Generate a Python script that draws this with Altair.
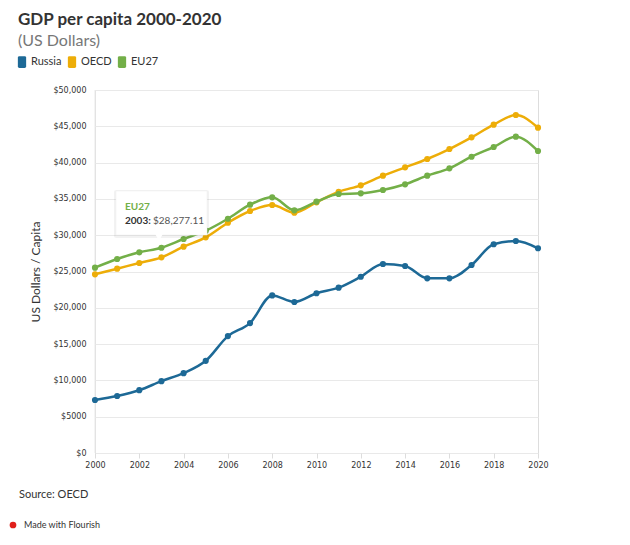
import altair as alt
import pandas as pd

years = list(range(2000, 2021))
russia = [7300, 7850, 8650, 9900, 11000, 12700, 16100, 17900, 21700, 20800, 22000,
          22770, 24280, 26030, 25760, 24060, 24060, 25900, 28750, 29200, 28200]
oecd = [24610, 25390, 26170, 26950, 28420, 29710, 31720, 33330, 34160, 33100, 34530,
        35990, 36870, 38200, 39350, 40500, 41870, 43480, 45220, 46560, 44810]
eu27 = [25530, 26720, 27640, 28277.11, 29480, 30620, 32270, 34200, 35220, 33430, 34620,
        35670, 35770, 36230, 37010, 38200, 39210, 40810, 42150, 43570, 41600]
series = ["Russia", "OECD", "EU27"]
colors = ["#1D6996", "#EDAD08", "#73AF48"]
y_ticks = list(range(0, 50001, 5000))
x_ticks = list(range(2000, 2021, 2))

rows = []
for name, vals in zip(series, [russia, oecd, eu27]):
    for yr, v in zip(years, vals):
        rows.append({"year": yr, "value": v, "series": name})
df = pd.DataFrame(rows)

W, H = 443, 363
FONT = "Lato"
TICKFONT = "DejaVu Sans"

x_enc = alt.X("year:Q", scale=alt.Scale(domain=[2000, 2020], nice=False, zero=False),
              axis=alt.Axis(values=x_ticks, format="d", title=None, grid=False, domain=False,
                            ticks=True, tickColor="#dddddd", tickSize=5, labelFont=TICKFONT,
                            labelFontSize=8, labelColor="#333333", labelPadding=3,
                            labelFlush=False, labelOverlap=False))
y_enc = alt.Y("value:Q", scale=alt.Scale(domain=[0, 50000], nice=False),
              axis=alt.Axis(values=y_ticks, title="US Dollars / Capita", titleFont=FONT,
                            titleFontSize=12, titleFontWeight="normal", titleColor="#333333",
                            titlePadding=10, grid=True, gridColor="#e9e9e9", domain=False,
                            ticks=False, labelFont=TICKFONT, labelFontSize=8,
                            labelColor="#333333", labelPadding=9, labelOverlap=False,
                            labelFlush=False,
                            labelExpr="datum.value >= 10000 ? '$' + format(datum.value, ',') : '$' + datum.value"))
color_enc = alt.Color("series:N", scale=alt.Scale(domain=series, range=colors),
                      legend=alt.Legend(title=None, orient="none", legendX=-79, legendY=-34,
                                        direction="horizontal",
                                        symbolType="M-0.45,-1 H0.45 Q0.7,-1 0.7,-0.75 V0.75 Q0.7,1 0.45,1 H-0.45 Q-0.7,1 -0.7,0.75 V-0.75 Q-0.7,-1 -0.45,-1 Z",
                                        symbolSize=140, symbolStrokeWidth=0, symbolOpacity=1,
                                        labelFont=FONT, labelFontSize=11, labelColor="#333333",
                                        columnPadding=4, labelOffset=3))

base = alt.Chart(df)
lines = base.mark_line(interpolate="monotone", strokeWidth=2.5).encode(x=x_enc, y=y_enc, color=color_enc)
pts = base.mark_point(filled=True, size=38, opacity=1).encode(x=x_enc, y=y_enc, color=color_enc)

one = pd.DataFrame({"a": [0]})
# left vertical guide line
vline = alt.Chart(one).mark_rule(color="#e9e9e9", strokeWidth=1).encode(
    x=alt.value(0), y=alt.value(0), y2=alt.value(H))

# tooltip box
shadow = alt.Chart(one).mark_rect(fill="#000000", opacity=0.05, cornerRadius=2).encode(
    x=alt.value(19), x2=alt.value(114), y=alt.value(100), y2=alt.value(148))
box = alt.Chart(one).mark_rect(fill="#ffffff", stroke="#eeeeee", strokeWidth=0.5).encode(
    x=alt.value(21), x2=alt.value(112), y=alt.value(101), y2=alt.value(145))
pointer = alt.Chart(one).mark_point(shape="triangle-down", filled=True, fill="#ffffff", opacity=1, size=70).encode(
    x=alt.value(64), y=alt.value(147))
tt1 = alt.Chart(one).mark_text(text="EU27", font=FONT, fontSize=10, fontWeight="bold", color="#73AF48",
                               align="left", baseline="middle").encode(x=alt.value(30), y=alt.value(117))
tt2 = alt.Chart(one).mark_text(text="2003:", font=FONT, fontSize=10, fontWeight="bold", color="#333333",
                               align="left", baseline="middle").encode(x=alt.value(30), y=alt.value(131))
tt3 = alt.Chart(one).mark_text(text="$28,277.11", font=FONT, fontSize=10, color="#555555",
                               align="left", baseline="middle").encode(x=alt.value(58), y=alt.value(131))

# titles and footer
title = alt.Chart(one).mark_text(text="GDP per capita 2000-2020", font=FONT, fontSize=17, fontWeight="bold",
                                 color="#333333", align="left", baseline="alphabetic").encode(
    x=alt.value(-77), y=alt.value(-65))
subtitle = alt.Chart(one).mark_text(text="(US Dollars)", font=FONT, fontSize=16, color="#777777",
                                    align="left", baseline="alphabetic").encode(x=alt.value(-77), y=alt.value(-44))
source = alt.Chart(one).mark_text(text="Source: OECD", font=FONT, fontSize=11, color="#333333",
                                  align="left", baseline="middle").encode(x=alt.value(-76), y=alt.value(405))
logo = alt.Chart(one).mark_point(filled=True, fill="#e0201b", opacity=1, size=45, shape="circle").encode(
    x=alt.value(-82), y=alt.value(435))
made = alt.Chart(one).mark_text(text="Made with Flourish", font=FONT, fontSize=9, color="#333333",
                                align="left", baseline="middle").encode(x=alt.value(-71), y=alt.value(435))

chart = alt.layer(vline, lines, pts, shadow, box, pointer, tt1, tt2, tt3, title, subtitle, source, logo, made).properties(
    width=W, height=H,
    autosize=alt.AutoSizeParams(type="none"),
    padding={"left": 87, "top": 82, "right": 84, "bottom": 84},
).configure_view(stroke=None).configure(background="#ffffff")

chart.save("out.html", embed_options={"renderer": "svg", "actions": False})
